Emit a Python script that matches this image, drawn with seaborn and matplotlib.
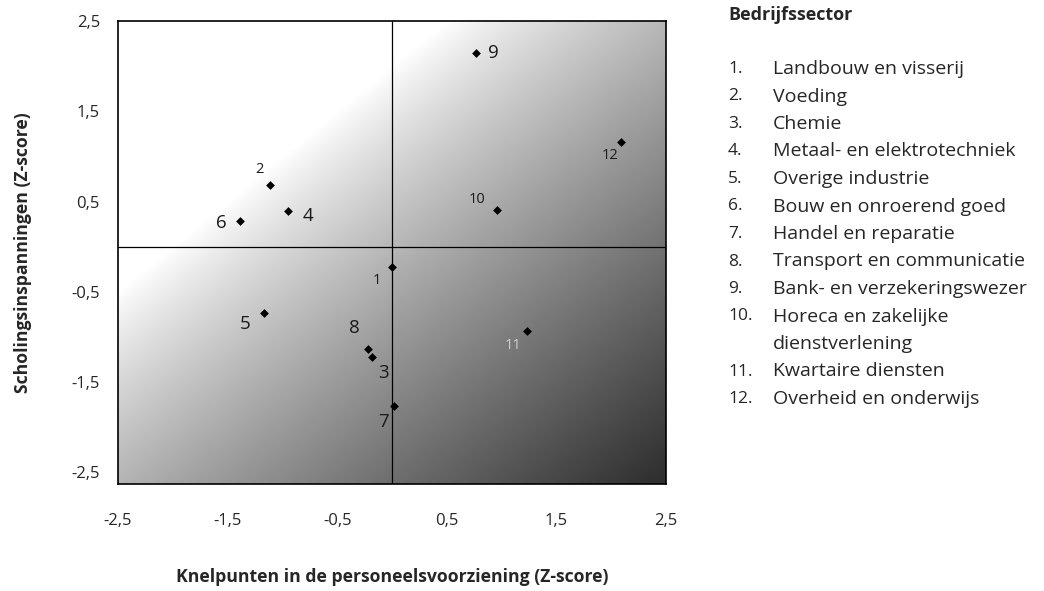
import numpy as np
import pandas as pd
import matplotlib
matplotlib.use("Agg")
import matplotlib.pyplot as plt
import seaborn as sns

# sector numbers and names (legend on the right)
SECTOR_IDS = ["1", "2", "3", "4", "5", "6", "7", "8", "9", "10", "11", "12"]
SECTOR_NAMES = [
    "Landbouw en visserij",
    "Voeding",
    "Chemie",
    "Metaal- en elektrotechniek",
    "Overige industrie",
    "Bouw en onroerend goed",
    "Handel en reparatie",
    "Transport en communicatie",
    "Bank- en verzekeringswezer",
    "Horeca en zakelijke\ndienstverlening",
    "Kwartaire diensten",
    "Overheid en onderwijs",
]

# Z-scores
KNELPUNTEN = [0.00, -1.11, -0.18, -0.95, -1.17, -1.39, 0.02, -0.22, 0.77, 0.96, 1.23, 2.09]
SCHOLING = [-0.23, 0.68, -1.22, 0.40, -0.73, 0.28, -1.77, -1.13, 2.15, 0.41, -0.93, 1.16]

TICKS = [-2.5, -1.5, -0.5, 0.5, 1.5, 2.5]
TICK_LABELS = ["-2,5", "-1,5", "-0,5", "0,5", "1,5", "2,5"]

# label offsets in pixels (dx, dy) and sizes
LABEL_OFFSETS = {
    "1": (-15, -13), "2": (-11, 16), "3": (11, -16), "4": (20, -5),
    "5": (-19, -11), "6": (-18, -2), "7": (-11, -16), "8": (-14, 21),
    "9": (17, 0), "10": (-20, 10), "11": (-14, -15), "12": (-11, -14),
}
SMALL_LABELS = {"1", "2", "10", "12", "11"}

XLIM = (-2.5, 2.5)
YLIM = (-2.63, 2.5)

df = pd.DataFrame({"sector": SECTOR_IDS, "x": KNELPUNTEN, "y": SCHOLING})

sns.set_theme(style="white")
plt.rcParams["font.family"] = ["Open Sans", "DejaVu Sans"]

fig = plt.figure(figsize=(10.44, 5.91), dpi=100)
ax = fig.add_axes([118 / 1044, 1 - 484 / 591, 548 / 1044, 463 / 591])

# shaded background: light top-left, dark bottom-right
gx, gy = np.meshgrid(np.linspace(XLIM[0], XLIM[1], 300), np.linspace(YLIM[0], YLIM[1], 300))
t = np.clip((gx - gy + 2.0) / 7.0, 0, 1) ** 0.85
shade = 1 - 0.81 * t
ax.imshow(shade, cmap="gray", vmin=0, vmax=1, origin="lower", aspect="auto",
          extent=[XLIM[0], XLIM[1], YLIM[0], YLIM[1]], zorder=0, interpolation="bilinear")

ax.axvline(0, color="black", lw=0.9, zorder=1)
ax.axhline(0, color="black", lw=0.9, zorder=1)

sns.scatterplot(data=df, x="x", y="y", ax=ax, marker="D", s=20, color="black",
                edgecolor="black", linewidth=0, zorder=3, legend=False)

for sid, xv, yv in zip(SECTOR_IDS, KNELPUNTEN, SCHOLING):
    dx, dy = LABEL_OFFSETS[sid]
    col = "#d0d0d0" if sid == "11" else "#1a1a1a"
    ax.annotate(sid, (xv, yv), xytext=(dx, dy), textcoords="offset pixels",
                ha="center", va="center", color=col,
                fontsize=10.5 if sid in SMALL_LABELS else 13.5, zorder=4)

ax.set_xlim(*XLIM)
ax.set_ylim(*YLIM)
ax.set_xticks(TICKS)
ax.set_xticklabels(TICK_LABELS)
ax.set_yticks(TICKS)
ax.set_yticklabels(TICK_LABELS)
ax.tick_params(axis="x", length=0, pad=21, labelsize=12)
ax.tick_params(axis="y", length=0, pad=13, labelsize=12)
for sp in ax.spines.values():
    sp.set_color("black")
    sp.set_linewidth(1.2)

ax.set_xlabel("Knelpunten in de personeelsvoorziening (Z-score)", fontsize=12.7,
              fontweight="bold", labelpad=28)
ax.set_ylabel("Scholingsinspanningen (Z-score)", fontsize=12.7, fontweight="bold", labelpad=28)

# legend text on the right
fig.text(728 / 1044, 1 - 15 / 591, "Bedrijfssector", fontsize=13, fontweight="bold",
         ha="left", va="center")
row = 0
for sid, name in zip(SECTOR_IDS, SECTOR_NAMES):
    ypx = 69 + row * 27.5
    fig.text(728 / 1044, 1 - ypx / 591, sid + ".", fontsize=12.5, ha="left", va="center")
    for k, line in enumerate(name.split("\n")):
        fig.text(773 / 1044, 1 - (ypx + k * 27.5) / 591, line, fontsize=14,
                 ha="left", va="center")
    row += len(name.split("\n"))

fig.savefig("out.png", dpi=100)
